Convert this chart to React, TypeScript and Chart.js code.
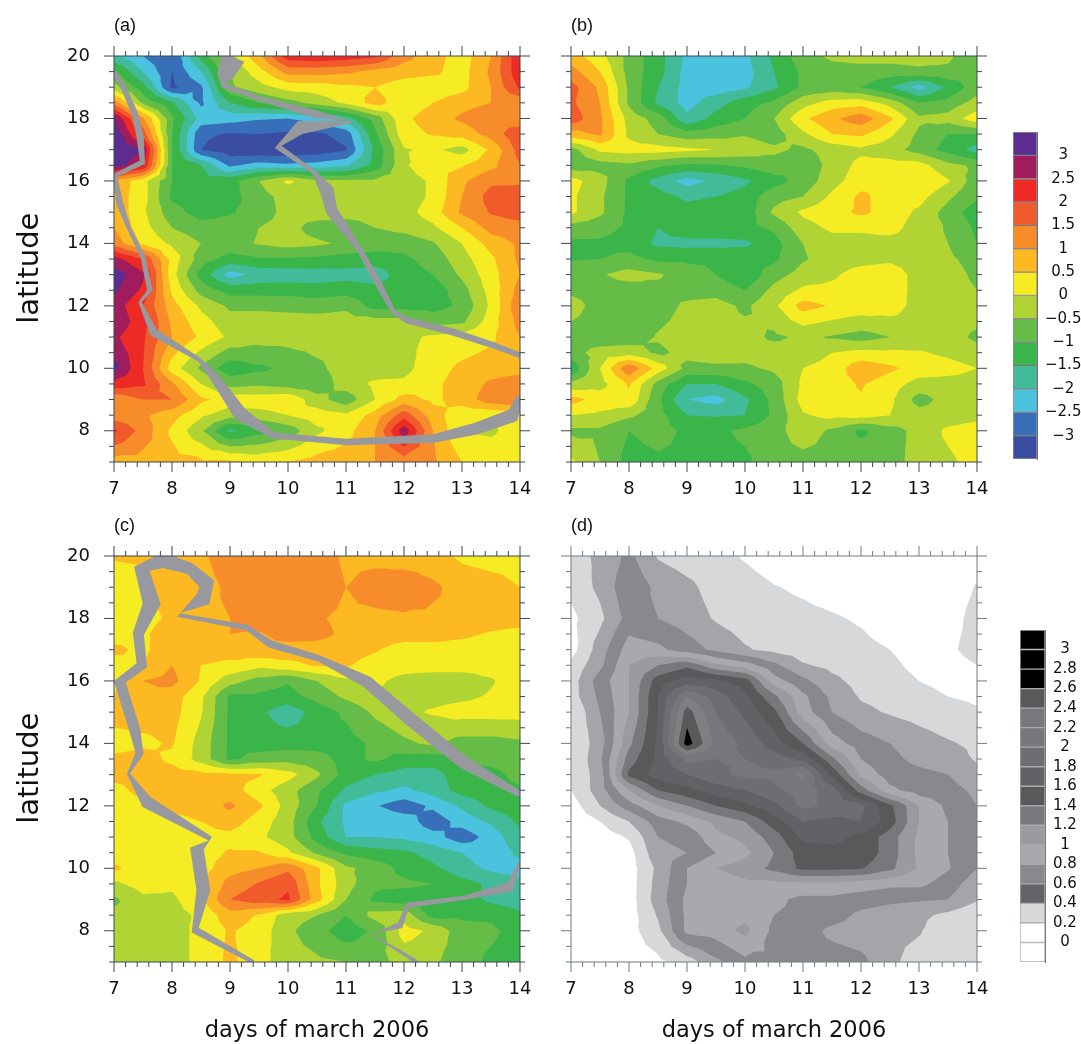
import React, { useEffect, useRef } from "react";
import { Chart, registerables } from "chart.js";

Chart.register(...registerables);

const dayValues = [7, 7.5, 8, 8.5, 9, 9.5, 10, 10.5, 11, 11.5, 12, 12.5, 13, 13.5, 14];
const dayTicks = [7, 8, 9, 10, 11, 12, 13, 14];
const latTicks = [8, 10, 12, 14, 16, 18, 20];

const anomalyLevels = [-3, -2.5, -2, -1.5, -1, -0.5, 0, 0.5, 1, 1.5, 2, 2.5, 3];
const anomalyColors = ["#3b4da0", "#386fb9", "#4bc3df", "#42bb98", "#39b54a", "#65bc46", "#b1d435", "#f6ec23", "#fdb922", "#f78c2a", "#f15a2b", "#ee2a24", "#a01c5c", "#5b2d91"];
const spreadLevels = [0, 0.2, 0.4, 0.6, 0.8, 1, 1.2, 1.4, 1.6, 1.8, 2, 2.2, 2.4, 2.6, 2.8, 3];
const spreadColors = ["#ffffff", "#ffffff", "#d6d8da", "#a3a5a8", "#88898c", "#a7a9ac", "#9a9b9e", "#77787b", "#58595b", "#616265", "#6d6e71", "#76777a", "#7e7f82", "#58595b", "#000000", "#000000", "#000000"];
const spreadLegendColors = ["#ffffff", "#ffffff", "#d6d8da", "#636468", "#88898c", "#a7a9ac", "#9a9b9e", "#77787b", "#58595b", "#616265", "#6d6e71", "#76777a", "#77787b", "#58595b", "#000000", "#000000", "#000000"];

const panelALats = [20, 19.5, 19, 18.5, 18, 17.5, 17, 16.5, 16, 15.5, 15, 14.5, 14, 13.5, 13, 12.5, 12, 11.5, 11, 10, 9.5, 9, 8.5, 8, 7];
const panelA = [
  [-1.9, -2.5, -3.0, -1.3, -0.2, 0.9, 2.3, 2.4, 2.3, 2.1, 1.2, 0.7, 0.25, 1.0, 2.4],
  [-0.9, -2.0, -3.0, -2.0, -0.5, 0.3, 1.2, 1.2, 1.1, 0.85, 0.7, 0.6, 0.3, 1.1, 2.4],
  [-0.3, -1.3, -3.1, -2.6, -0.6, -0.2, 0.2, 0.25, 0.4, 0.5, 0.25, 0.2, 0.35, 1.0, 2.1],
  [1.3, -0.6, -1.4, -2.6, -1.5, -1.0, -0.7, -0.3, 0.1, 0.7, 0.2, 0.5, 0.8, 1.0, 1.1],
  [3.1, 1.1, -0.9, -2.2, -2.3, -2.45, -2.5, -2.3, -1.7, -0.8, 0.4, 0.75, 1.1, 1.4, 1.1],
  [3.4, 1.8, -1.0, -2.9, -3.05, -3.0, -3.1, -3.1, -2.8, -1.1, 0.3, 0.55, 0.7, 1.2, 1.9],
  [3.4, 3.0, -1.0, -3.0, -3.3, -3.4, -3.4, -3.3, -3.05, -1.4, -0.05, 0.1, -0.2, 0.6, 1.7],
  [3.3, 2.6, -1.0, -1.5, -2.6, -2.3, -2.4, -2.3, -2.1, -1.3, -0.1, 0.5, 0.45, 0.85, 1.5],
  [0.9, 0.2, -1.0, -1.3, -1.2, -0.5, 0.1, -0.4, -0.4, -0.4, -0.3, 0.1, 0.9, 1.4, 1.4],
  [0.8, 0.2, -1.1, -1.3, -1.2, -0.7, -0.3, -0.3, -0.3, -0.3, -0.3, 0.1, 1.0, 1.7, 1.8],
  [0.9, 0.1, -0.8, -1.2, -1.05, -0.8, -0.3, -0.2, -0.2, -0.2, -0.2, 0.25, 1.1, 1.55, 1.75],
  [1.0, 0.2, -0.5, -0.8, -0.8, -0.5, -0.3, -0.75, -0.9, -0.5, -0.35, -0.1, 0.5, 1.2, 1.3],
  [1.3, 0.4, -0.1, -0.5, -0.7, -0.45, -0.3, -0.4, -0.6, -0.8, -0.8, -0.55, 0.0, 0.7, 1.1],
  [2.7, 2.0, 0.3, -0.75, -1.2, -1.05, -1.05, -1.1, -1.2, -1.2, -1.1, -0.8, -0.2, 0.4, 1.1],
  [3.3, 2.6, 0.2, -1.2, -2.2, -1.85, -1.8, -1.75, -1.7, -1.8, -1.2, -1.0, -0.4, 0.3, 1.0],
  [3.1, 2.4, 0.4, -0.7, -1.2, -1.2, -1.2, -1.3, -1.2, -1.3, -1.3, -1.3, -0.7, 0.2, 1.2],
  [2.8, 2.0, 0.7, -0.1, -0.6, -0.6, -0.65, -0.7, -0.6, -1.2, -1.2, -1.2, -0.9, 0.1, 1.4],
  [2.9, 2.2, 0.9, 0.2, -0.3, -0.3, -0.3, -0.3, -0.3, -0.3, -0.3, -0.7, -0.6, 0.25, 1.2],
  [2.6, 2.1, 1.0, 0.4, -0.1, -0.3, -0.3, -0.3, -0.3, -0.3, -0.15, 0.1, 0.2, 0.4, 1.0],
  [3.2, 2.0, 0.25, -0.6, -1.3, -1.1, -0.9, -0.6, -0.3, -0.3, -0.15, 0.3, 0.6, 0.75, 0.8],
  [2.3, 2.1, 1.1, 0.0, -0.7, -0.6, -0.75, -0.85, -0.25, 0.1, 0.1, 0.4, 0.7, 1.1, 1.3],
  [1.1, 1.5, 1.5, 0.6, 0.3, 0.3, 0.4, -0.3, -0.8, 0.0, 0.7, 0.4, 0.7, 1.3, 1.5],
  [1.2, 1.1, 0.7, 0.1, -0.3, -0.2, 0.0, 0.25, 0.1, 0.7, 1.8, 0.7, 0.2, 0.1, 0.2],
  [2.1, 1.3, 0.4, -0.4, -1.6, -1.2, -0.8, -0.1, 0.3, 1.0, 2.8, 1.0, 0.0, -0.1, 0.3],
  [0.8, 0.8, 0.7, 0.6, 0.6, 0.4, 0.5, 0.7, 0.8, 1.0, 1.2, 1.1, 0.5, 0.4, 0.4],
];

const panelBLats = [20, 19.5, 19, 18.5, 18, 17.5, 17, 16.5, 16, 15.5, 15, 14.5, 14, 13.5, 13, 12.5, 12, 11, 10.5, 10, 9.5, 9, 8.5, 8, 7];
const panelB = [
  [0.7, 0.2, -0.7, -1.3, -2.1, -2.2, -2.1, -1.4, -0.7, -0.4, -0.3, -0.3, -0.3, -0.4, -0.9],
  [1.2, 0.5, -0.7, -1.3, -2.2, -2.2, -2.2, -1.5, -0.9, -0.7, -0.7, -0.7, -0.6, -0.6, -0.9],
  [1.7, 0.9, -0.6, -1.5, -2.2, -2.3, -2.1, -1.6, -0.9, -0.8, -1.0, -1.5, -2.2, -1.4, -0.7],
  [1.6, 1.0, -0.6, -1.6, -2.2, -1.7, -1.2, -0.9, -0.2, 0.2, 0.3, -0.2, -1.0, -0.8, -0.3],
  [1.8, 1.1, -0.2, -0.7, -1.9, -1.3, -1.0, -0.5, 0.4, 0.9, 1.3, 0.6, -0.4, -0.3, 0.3],
  [0.8, 1.1, -0.1, -0.5, -0.8, -0.7, -0.55, -0.75, -0.1, 0.5, 0.6, 0.1, -0.6, -1.0, -1.0],
  [-0.7, 0.1, 0.2, 0.2, 0.1, 0.0, -0.2, -0.4, -0.6, -0.3, -0.1, -0.3, -0.7, -1.2, -1.7],
  [-0.8, -0.7, -0.6, -0.9, -1.1, -1.05, -0.9, -0.7, -0.9, -0.3, 0.15, 0.2, 0.2, -0.35, -0.6],
  [0.2, -0.3, -1.1, -1.7, -2.2, -1.9, -1.6, -1.2, -0.8, -0.2, 0.3, 0.4, 0.5, 0.05, -0.8],
  [0.1, -0.4, -1.1, -1.3, -1.6, -1.5, -1.3, -0.7, -0.5, 0.1, 0.6, 0.3, 0.2, -0.4, -0.9],
  [0.1, -0.4, -1.1, -1.1, -1.3, -1.2, -1.3, -0.4, 0.1, 0.3, 0.6, 0.3, -0.1, -0.7, -1.3],
  [-0.7, -0.8, -1.1, -1.5, -1.2, -1.2, -1.15, -0.9, -0.2, 0.1, 0.1, 0.2, -0.25, -0.55, -1.1],
  [-1.1, -1.1, -1.2, -1.6, -1.65, -1.65, -1.6, -1.2, -0.5, -0.2, -0.2, -0.2, -0.3, -0.5, -1.0],
  [-1.05, -1.0, -0.85, -1.1, -1.1, -1.1, -1.2, -1.1, -0.55, -0.3, -0.2, -0.1, -0.3, -0.4, -0.7],
  [-0.7, -0.55, -0.3, -0.45, -0.7, -1.0, -1.4, -0.7, -0.3, -0.1, 0.25, 0.3, -0.2, -0.3, -0.6],
  [-0.6, -0.7, -0.75, -0.6, -0.7, -0.7, -1.0, -0.35, 0.1, 0.15, 0.3, 0.3, -0.2, -0.3, -0.5],
  [-0.3, -0.7, -0.9, -0.75, -0.4, -0.3, -0.6, -0.1, 0.7, 0.45, 0.3, 0.25, -0.2, -0.2, -0.2],
  [-0.7, -0.8, -0.8, -0.45, -0.25, -0.25, -0.3, -0.6, -0.4, -0.55, -0.7, -0.5, -0.3, -0.3, -0.6],
  [-0.7, -0.3, -0.2, -0.6, -0.35, -0.25, -0.3, -0.25, -0.3, 0.0, 0.15, 0.1, 0.05, -0.1, -0.3],
  [-1.4, 0.0, 1.4, 0.3, -0.65, -0.6, -0.6, -0.4, 0.0, 0.2, 0.85, 0.6, 0.3, 0.2, 0.0],
  [-0.4, -0.2, 0.55, -0.7, -1.5, -1.5, -1.1, -0.75, 0.1, 0.3, 0.55, 0.25, -0.2, -0.2, -0.2],
  [0.7, 0.3, 0.4, -0.9, -2.0, -2.2, -1.6, -0.85, 0.2, 0.3, 0.45, 0.1, -0.7, -0.3, -0.2],
  [0.0, -0.1, -0.4, -0.8, -1.5, -1.55, -1.5, -0.9, -0.05, 0.15, 0.2, 0.0, -0.3, -0.3, -0.2],
  [-0.6, -0.6, -1.0, -0.8, -1.1, -1.1, -0.9, -0.7, -0.2, -0.6, -1.1, -0.7, -0.35, 0.1, 0.3],
  [0.1, -0.5, -1.2, -1.1, -1.1, -1.2, -1.1, -0.7, -0.7, -0.7, -0.7, -0.7, -0.3, -0.1, 0.2],
];

const panelCLats = [20, 19, 18, 17.5, 17, 16.5, 16, 15.5, 15, 14, 13.5, 13, 12.5, 12, 11.5, 11, 10.5, 10, 9.5, 9, 8.5, 8, 7];
const panelC = [
  [0.55, 0.6, 0.7, 0.9, 1.3, 1.4, 1.4, 1.3, 0.9, 0.8, 0.7, 0.7, 0.4, 0.3, 0.3],
  [0.2, 0.3, 0.9, 0.8, 1.1, 1.3, 1.3, 1.3, 1.0, 1.3, 1.4, 1.1, 0.8, 0.7, 0.5],
  [0.25, 0.3, 0.6, 0.9, 1.0, 1.3, 1.3, 1.05, 0.9, 0.85, 0.9, 0.9, 0.85, 0.75, 0.7],
  [0.3, 0.4, 0.85, 0.85, 1.0, 0.95, 1.2, 1.15, 0.9, 0.85, 0.75, 0.75, 0.6, 0.45, 0.35],
  [0.6, 0.4, 0.8, 0.7, 0.7, 0.9, 0.8, 0.8, 0.7, 0.55, 0.25, 0.25, 0.3, 0.2, 0.0],
  [0.3, 0.5, 1.0, 0.5, 0.4, 0.15, 0.35, 0.55, 0.55, 0.3, 0.2, 0.2, 0.2, 0.2, 0.3],
  [0.2, 1.0, 1.15, 0.45, -0.3, -0.7, -0.95, -0.5, -0.1, 0.1, -0.15, -0.25, -0.25, -0.05, 0.3],
  [0.6, 1.0, 0.75, 0.1, -1.1, -1.1, -1.2, -0.8, -0.4, -0.1, -0.15, -0.15, -0.1, 0.05, 0.25],
  [0.7, 0.7, 0.7, 0.05, -1.1, -1.4, -1.8, -1.3, -0.9, -0.4, -0.1, 0.05, 0.2, 0.2, 0.2],
  [0.3, 0.4, 0.55, -0.2, -1.1, -1.25, -1.2, -1.2, -1.2, -0.9, -0.6, -0.4, -0.7, -0.7, -0.6],
  [0.6, 0.7, 0.4, -0.2, -1.1, -0.8, -0.7, -0.8, -1.2, -0.9, -1.2, -1.25, -1.0, -0.8, -0.6],
  [0.7, 0.7, 0.7, 0.65, 0.6, 0.55, 0.2, -0.4, -1.2, -1.5, -1.7, -1.7, -1.2, -1.2, -0.8],
  [0.3, 0.7, 0.7, 0.7, 0.75, 0.2, -0.3, -0.9, -1.6, -1.9, -2.1, -1.8, -1.3, -1.2, -1.1],
  [0.2, 0.3, 0.7, 0.7, 1.1, 0.6, -0.2, -1.0, -2.1, -2.45, -2.8, -2.4, -1.9, -1.4, -1.2],
  [0.2, 0.2, 0.3, 0.5, 0.75, 0.25, -0.3, -1.4, -2.1, -2.1, -2.2, -2.8, -2.3, -1.9, -1.4],
  [0.2, 0.2, 0.3, 0.35, 0.35, 0.1, -0.3, -1.2, -2.0, -2.0, -2.1, -2.3, -2.8, -2.3, -1.6],
  [0.2, 0.2, 0.2, 0.3, 0.55, 0.55, 0.1, -0.6, -1.1, -1.3, -1.4, -1.7, -2.0, -2.3, -1.9],
  [0.6, 0.2, 0.1, 0.3, 0.8, 1.0, 1.4, 0.6, -0.4, -0.7, -1.15, -1.4, -1.8, -2.1, -2.2],
  [-0.1, 0.2, 0.1, 0.4, 1.2, 1.55, 1.9, 0.6, -0.3, -0.9, -0.9, -1.0, -1.3, -1.6, -1.9],
  [-0.6, -0.1, -0.1, 0.4, 1.5, 1.8, 2.1, 0.7, -0.5, -1.1, -1.3, -1.2, -1.3, -1.6, -1.8],
  [-0.4, -0.3, -0.2, 0.1, 0.8, 0.45, -0.3, -0.5, -1.0, -0.3, -0.2, -1.2, -1.1, -1.1, -1.4],
  [-0.3, -0.3, -0.3, 0.2, 0.55, 0.3, -0.4, -0.8, -1.3, -0.9, 0.2, -0.1, -0.8, -0.9, -1.2],
  [-0.3, -0.3, -0.3, 0.2, 0.6, 0.2, -0.3, -0.4, -0.5, -0.7, -0.3, -0.4, -0.8, -1.1, -1.3],
];

const panelDLats = [20, 19, 18, 17, 16.5, 16, 15.5, 15, 14, 13.5, 13, 12.5, 12, 11.5, 11, 10.5, 10, 9.5, 9, 8.5, 8, 7];
const panelD = [
  [0.3, 0.45, 0.65, 0.38, 0.3, 0.27, 0.18, 0.1, 0.05, 0.05, 0.05, 0.05, 0.05, 0.05, 0.05],
  [0.25, 0.45, 0.75, 0.55, 0.45, 0.32, 0.28, 0.21, 0.17, 0.12, 0.1, 0.05, 0.03, 0.05, 0.22],
  [0.15, 0.35, 0.68, 0.6, 0.5, 0.38, 0.3, 0.27, 0.25, 0.22, 0.18, 0.1, 0.05, 0.08, 0.3],
  [0.12, 0.5, 0.9, 0.85, 0.7, 0.55, 0.42, 0.35, 0.3, 0.28, 0.25, 0.2, 0.12, 0.15, 0.3],
  [0.25, 0.55, 1.0, 1.2, 1.35, 1.05, 0.9, 0.65, 0.42, 0.35, 0.3, 0.24, 0.15, 0.1, 0.2],
  [0.3, 0.7, 1.0, 1.5, 1.7, 1.65, 1.5, 0.9, 0.65, 0.45, 0.33, 0.28, 0.2, 0.15, 0.12],
  [0.3, 0.65, 1.0, 1.6, 2.2, 1.9, 1.65, 1.25, 0.85, 0.55, 0.38, 0.33, 0.26, 0.2, 0.17],
  [0.2, 0.6, 1.0, 1.6, 2.5, 2.0, 1.75, 1.45, 0.9, 0.6, 0.45, 0.38, 0.32, 0.27, 0.22],
  [0.22, 0.5, 1.15, 1.65, 2.7, 2.15, 1.95, 1.7, 1.4, 0.9, 0.7, 0.6, 0.5, 0.42, 0.36],
  [0.2, 0.55, 1.3, 1.65, 2.05, 2.0, 2.0, 1.9, 1.75, 1.25, 0.8, 0.65, 0.55, 0.5, 0.38],
  [0.22, 0.5, 1.45, 1.7, 1.8, 1.95, 2.05, 2.05, 2.25, 1.55, 0.95, 0.7, 0.65, 0.6, 0.45],
  [0.2, 0.5, 1.0, 1.4, 1.55, 1.7, 1.8, 1.95, 2.1, 1.9, 1.3, 0.85, 0.7, 0.68, 0.55],
  [0.1, 0.4, 0.7, 1.0, 1.2, 1.4, 1.55, 1.75, 2.05, 1.95, 1.85, 1.45, 1.0, 0.75, 0.6],
  [0.07, 0.2, 0.4, 0.7, 0.85, 1.05, 1.2, 1.5, 1.8, 1.75, 1.8, 1.5, 1.0, 0.8, 0.6],
  [0.05, 0.1, 0.22, 0.6, 0.65, 0.95, 1.05, 1.3, 1.65, 1.65, 1.55, 1.3, 0.95, 0.8, 0.6],
  [0.04, 0.06, 0.12, 0.55, 0.6, 0.8, 0.95, 1.2, 1.5, 1.55, 1.55, 1.3, 0.95, 0.8, 0.6],
  [0.03, 0.05, 0.1, 0.45, 0.8, 1.0, 1.1, 1.25, 1.45, 1.45, 1.42, 1.25, 0.98, 0.82, 0.6],
  [0.03, 0.05, 0.1, 0.48, 0.8, 0.88, 0.95, 0.95, 0.95, 0.95, 0.9, 0.85, 0.85, 0.7, 0.48],
  [0.03, 0.05, 0.1, 0.5, 0.85, 0.9, 0.95, 0.85, 0.75, 0.75, 0.7, 0.65, 0.62, 0.6, 0.42],
  [0.03, 0.05, 0.1, 0.42, 0.85, 0.9, 0.95, 0.8, 0.75, 0.7, 0.55, 0.48, 0.45, 0.35, 0.24],
  [0.03, 0.05, 0.12, 0.35, 0.85, 0.9, 1.05, 0.75, 0.7, 0.55, 0.5, 0.45, 0.42, 0.25, 0.2],
  [0.02, 0.05, 0.08, 0.15, 0.3, 0.55, 0.75, 0.75, 0.7, 0.7, 0.65, 0.45, 0.3, 0.27, 0.25],
];

const ridgeA1Days = [7.0, 7.16, 7.36, 7.45, 7.49, 7.02, 7.1, 7.25, 7.5, 7.62, 7.45, 7.68, 8.48, 8.77, 9.17, 9.75, 11.01, 12.51, 13.25, 13.88, 14.0];
const ridgeA1Lats = [19.49, 19.01, 18.15, 17.41, 16.6, 16.18, 15.27, 14.52, 13.56, 12.5, 12.12, 11.16, 10.26, 9.62, 8.55, 7.85, 7.64, 7.75, 8.07, 8.49, 9.08];
const ridgeA1Thick = [0.15, 0.15, 0.17, 0.19, 0.17, 0.13, 0.19, 0.11, 0.13, 0.15, 0.09, 0.23, 0.11, 0.26, 0.38, 0.17, 0.17, 0.23, 0.32, 0.37, 0.21];
const ridgeA2Days = [9.06, 8.91, 8.89, 9.52, 10.49, 11.13, 10.21, 9.83, 10.44, 10.67, 10.75, 11.24, 11.53, 11.82, 12.05, 12.85, 13.54, 14.0];
const ridgeA2Lats = [19.97, 19.33, 19.06, 18.63, 18.13, 17.91, 17.71, 17.09, 16.29, 15.7, 15.06, 13.78, 12.82, 11.8, 11.54, 11.16, 10.74, 10.42];
const ridgeA2Thick = [0.64, 0.43, 0.15, 0.13, 0.21, 0.06, 0.37, 0.19, 0.11, 0.38, 0.32, 0.15, 0.19, 0.13, 0.17, 0.19, 0.17, 0.15];
const ridgeC1Days = [14, 13.02, 12.1, 11.36, 10.55, 9.69, 9.29, 8.11, 8.54, 8.6, 8.31, 7.85, 7.48, 7.65, 7.42, 7.48, 7.1, 7.36, 7.44, 7.25, 7.56, 8.66, 8.43, 8.54, 8.4, 9.4];
const ridgeC1Lats = [12.37, 13.4, 14.79, 15.97, 16.71, 17.19, 17.71, 18.11, 18.63, 19.11, 19.59, 19.87, 19.59, 18.47, 17.51, 16.5, 15.97, 14.42, 13.67, 13.03, 12.12, 10.95, 10.63, 9.3, 8.02, 7.0];
const ridgeC1Thick = [0.17, 0.34, 0.36, 0.32, 0.17, 0.21, 0.15, 0.11, 0.43, 0.43, 0.32, 0.43, 0.43, 0.48, 0.3, 0.3, 0.32, 0.3, 0.21, 0.09, 0.34, 0.13, 0.37, 0.37, 0.23, 0.11];
const ridgeC2Days = [13.99, 13.83, 13.02, 12.07, 11.93, 11.44, 12.22];
const ridgeC2Lats = [10.2, 9.4, 9.05, 8.82, 8.17, 7.9, 7.0];
const ridgeC2Thick = [0.06, 0.27, 0.11, 0.15, 0.19, 0.04, 0.11];

const RIDGE_COLOR = "#98999e";
const INK = "#111111";
const AXIS_FONT = "'DejaVu Sans'";

function ridgeOutline(days: number[], lats: number[], thick: number[]) {
  const k = 1.86;
  const left: { x: number; y: number }[] = [];
  const right: { x: number; y: number }[] = [];
  days.forEach((d, i) => {
    const p = Math.max(0, i - 1);
    const n = Math.min(days.length - 1, i + 1);
    let tx = (days[n] - days[p]) * k;
    let ty = lats[n] - lats[p];
    const len = Math.hypot(tx, ty) || 1;
    tx /= len;
    ty /= len;
    const nx = -ty * thick[i] * 0.6;
    const ny = tx * thick[i] * 0.6;
    left.push({ x: d + nx / k, y: lats[i] + ny });
    right.push({ x: d - nx / k, y: lats[i] - ny });
  });
  return left.concat(right.reverse());
}

function gridPoints(values: number[][], lats: number[]) {
  const out: { x: number; y: number; v: number }[] = [];
  lats.forEach((lat, r) => dayValues.forEach((day, c) => out.push({ x: day, y: lat, v: values[r][c] })));
  return out;
}

type P = [number, number, number];

function clipAbove(poly: P[], level: number) {
  const out: P[] = [];
  for (let i = 0; i < poly.length; i++) {
    const a = poly[i];
    const b = poly[(i + 1) % poly.length];
    const ain = a[2] >= level;
    const bin = b[2] >= level;
    if (ain) out.push(a);
    if (ain !== bin) {
      const t = (level - a[2]) / (b[2] - a[2]);
      out.push([a[0] + (b[0] - a[0]) * t, a[1] + (b[1] - a[1]) * t, level]);
    }
  }
  return out;
}

const contourPlugin = {
  id: "contourBands",
  beforeDatasetsDraw(chart: any, _a: any, opts: any) {
    const { ctx, chartArea: ca, scales } = chart;
    const pts = chart.data.datasets[0].data as { x: number; y: number; v: number }[];
    const cols = dayValues.length;
    const rows = pts.length / cols;
    const cell = (r: number, c: number): P => {
      const q = pts[r * cols + c];
      return [scales.x.getPixelForValue(q.x), scales.y.getPixelForValue(q.y), q.v];
    };
    const tris: P[][] = [];
    for (let r = 0; r < rows - 1; r++) {
      for (let c = 0; c < cols - 1; c++) {
        const a = cell(r, c);
        const b = cell(r, c + 1);
        const d = cell(r + 1, c);
        const e = cell(r + 1, c + 1);
        const m: P = [(a[0] + e[0]) / 2, (a[1] + e[1]) / 2, (a[2] + b[2] + d[2] + e[2]) / 4];
        tris.push([a, b, m], [b, e, m], [e, d, m], [d, a, m]);
      }
    }
    ctx.save();
    ctx.fillStyle = opts.colors[0];
    ctx.fillRect(ca.left, ca.top, ca.width, ca.height);
    opts.levels.forEach((level: number, k: number) => {
      ctx.beginPath();
      for (const t of tris) {
        const poly = clipAbove(t, level);
        if (poly.length < 3) continue;
        ctx.moveTo(poly[0][0], poly[0][1]);
        for (let i = 1; i < poly.length; i++) ctx.lineTo(poly[i][0], poly[i][1]);
        ctx.closePath();
      }
      ctx.fillStyle = opts.colors[k + 1];
      ctx.fill();
    });
    ctx.beginPath();
    ctx.rect(ca.left, ca.top, ca.width, ca.height);
    ctx.clip();
    chart.data.datasets.forEach((ds: any, i: number) => {
      if (!ds.isRidge) return;
      const els = chart.getDatasetMeta(i).data;
      ctx.beginPath();
      els.forEach((el: any, j: number) => (j ? ctx.lineTo(el.x, el.y) : ctx.moveTo(el.x, el.y)));
      ctx.closePath();
      ctx.fillStyle = RIDGE_COLOR;
      ctx.fill();
    });
    ctx.restore();
  },
  afterDatasetsDraw(chart: any, _a: any, opts: any) {
    const { ctx, chartArea: ca, scales } = chart;
    ctx.save();
    ctx.strokeStyle = opts.axisColor;
    ctx.lineWidth = 1;
    ctx.beginPath();
    ctx.rect(ca.left, ca.top, ca.width, ca.height);
    const vTick = (v: number, len: number) => {
      const p = scales.x.getPixelForValue(v);
      ctx.moveTo(p, ca.top);
      ctx.lineTo(p, ca.top - len);
      ctx.moveTo(p, ca.bottom);
      ctx.lineTo(p, ca.bottom + len);
    };
    const hTick = (v: number, len: number) => {
      const p = scales.y.getPixelForValue(v);
      ctx.moveTo(ca.left, p);
      ctx.lineTo(ca.left - len, p);
      ctx.moveTo(ca.right, p);
      ctx.lineTo(ca.right + len, p);
    };
    for (let t = 7; t < 14; t++) for (let j = 1; j < 5; j++) vTick(t + j / 5, 5);
    dayTicks.forEach((t) => vTick(t, 10));
    for (let t = 7; t < 20; t += 0.5) if (!latTicks.includes(t)) hTick(t, 5);
    latTicks.forEach((t) => hTick(t, 10));
    ctx.stroke();
    ctx.restore();
  },
};

type PanelProps = {
  left: number;
  top: number;
  width: number;
  height: number;
  areaLeft: number;
  areaBottom: number;
  label: string;
  values: number[][];
  lats: number[];
  levels: number[];
  colors: string[];
  ridges: { x: number; y: number }[][];
  yLabels: boolean;
  xTitle: boolean;
  axisColor: string;
};

function Panel(p: PanelProps) {
  const ref = useRef<HTMLCanvasElement>(null);
  useEffect(() => {
    const chart = new Chart(ref.current as HTMLCanvasElement, {
      type: "scatter",
      data: {
        datasets: [
          { label: "field", data: gridPoints(p.values, p.lats), pointRadius: 0, showLine: false },
          ...p.ridges.map((r, i) => ({ label: "ridge " + i, isRidge: true, data: r, pointRadius: 0, showLine: false })),
        ] as any,
      },
      options: {
        responsive: false,
        animation: false,
        events: [],
        layout: { padding: { left: p.yLabels ? 13 : 0, top: 16, right: p.width - (p.areaLeft + 406), bottom: 0 } },
        plugins: {
          legend: { display: false },
          tooltip: { enabled: false },
          title: {
            display: true,
            text: p.label,
            align: "start",
            fullSize: false,
            color: INK,
            font: { family: "'Liberation Sans'", size: 18, weight: "normal", lineHeight: "20px" },
            padding: { top: 0, bottom: 20 },
          },
          contourBands: { levels: p.levels, colors: p.colors, axisColor: p.axisColor },
        } as any,
        scales: {
          x: {
            type: "linear",
            min: 7,
            max: 14,
            afterBuildTicks: (a: any) => {
              a.ticks = dayTicks.map((v) => ({ value: v }));
            },
            afterFit: (a: any) => {
              a.height = p.height - p.areaBottom;
            },
            grid: { display: false },
            border: { display: false },
            ticks: { color: INK, padding: 9, maxRotation: 0, autoSkip: false, font: { family: AXIS_FONT, size: 18 } },
            title: { display: p.xTitle, text: "days of march 2006", color: INK, padding: 0, font: { family: AXIS_FONT, size: 22.5, lineHeight: 1.1 } },
          },
          y: {
            type: "linear",
            min: 7,
            max: 20,
            afterBuildTicks: (a: any) => {
              a.ticks = latTicks.map((v) => ({ value: v }));
            },
            afterFit: (a: any) => {
              a.width = p.areaLeft - (p.yLabels ? 13 : 0);
            },
            grid: { display: false },
            border: { display: false },
            ticks: { display: p.yLabels, color: INK, padding: 16, autoSkip: false, font: { family: AXIS_FONT, size: 18 } },
            title: { display: p.yLabels, text: "latitude  ", color: INK, padding: 0, font: { family: AXIS_FONT, size: 29 } },
          },
        },
      } as any,
      plugins: [contourPlugin],
    });
    return () => chart.destroy();
  }, []);
  return <canvas ref={ref} width={p.width} height={p.height} style={{ position: "absolute", left: p.left, top: p.top }} />;
}

type BarProps = {
  left: number;
  top: number;
  width: number;
  height: number;
  padLeft: number;
  padTop: number;
  padBottom: number;
  barWidth: number;
  levels: number[];
  colors: string[];
  stepSize: number;
  edge: string;
  gap: string;
  fontSize: number;
};

function ColorBar(p: BarProps) {
  const ref = useRef<HTMLCanvasElement>(null);
  useEffect(() => {
    const first = p.levels[0] - p.stepSize;
    const last = p.levels[p.levels.length - 1] + p.stepSize;
    const edges = [first, ...p.levels, last];
    const chart = new Chart(ref.current as HTMLCanvasElement, {
      type: "bar",
      data: {
        labels: ["scale"],
        datasets: p.colors.map((c, i) => ({
          label: String(edges[i]),
          data: [[edges[i], edges[i + 1]]],
          backgroundColor: c,
          borderColor: p.gap,
          borderWidth: 1,
          borderSkipped: false,
          barPercentage: 1,
          categoryPercentage: 1,
          grouped: false,
        })) as any,
      },
      options: {
        responsive: false,
        animation: false,
        events: [],
        layout: { padding: { left: p.padLeft, top: p.padTop, bottom: p.padBottom, right: 0 } },
        plugins: { legend: { display: false }, tooltip: { enabled: false } },
        scales: {
          x: { display: false },
          y: {
            position: "right",
            min: first,
            max: last,
            afterBuildTicks: (a: any) => {
              a.ticks = p.levels.map((v) => ({ value: v }));
            },
            afterFit: (a: any) => {
              a.width = p.width - p.padLeft - p.barWidth;
              a.paddingTop = 0;
              a.paddingBottom = 0;
            },
            grid: { display: false },
            border: { display: true, color: p.edge },
            ticks: {
              color: INK,
              padding: 0,
              crossAlign: "center",
              autoSkip: false,
              callback: (v: any) => (Math.round(Number(v) * 10) / 10).toString().replace("-", "\u2212"),
              font: { family: AXIS_FONT, size: p.fontSize },
            },
          },
        },
      } as any,
    });
    return () => chart.destroy();
  }, []);
  return <canvas ref={ref} width={p.width} height={p.height} style={{ position: "absolute", left: p.left, top: p.top }} />;
}

export default function App() {
  const ridgesA = [ridgeOutline(ridgeA1Days, ridgeA1Lats, ridgeA1Thick), ridgeOutline(ridgeA2Days, ridgeA2Lats, ridgeA2Thick)];
  const ridgesC = [ridgeOutline(ridgeC1Days, ridgeC1Lats, ridgeC1Thick), ridgeOutline(ridgeC2Days, ridgeC2Lats, ridgeC2Thick)];
  return (
    <div style={{ position: "absolute", left: 0, top: 0, width: 1081, height: 1044, overflow: "hidden", background: "#fff", filter: "blur(0.6px)" }}>
      <Panel left={0} top={0} width={545} height={505} areaLeft={114} areaBottom={462} label="(a)" values={panelA} lats={panelALats} levels={anomalyLevels} colors={anomalyColors} ridges={ridgesA} yLabels xTitle={false} axisColor="#3c4650" />
      <Panel left={545} top={0} width={455} height={505} areaLeft={26} areaBottom={462} label="(b)" values={panelB} lats={panelBLats} levels={anomalyLevels} colors={anomalyColors} ridges={[]} yLabels={false} xTitle={false} axisColor="#3c4650" />
      <Panel left={0} top={500} width={545} height={544} areaLeft={114} areaBottom={462} label="(c)" values={panelC} lats={panelCLats} levels={anomalyLevels} colors={anomalyColors} ridges={ridgesC} yLabels xTitle axisColor="#3c4650" />
      <Panel left={545} top={500} width={455} height={544} areaLeft={26} areaBottom={462} label="(d)" values={panelD} lats={panelDLats} levels={spreadLevels} colors={spreadColors} ridges={[]} yLabels={false} xTitle axisColor="#6f7a84" />
      <ColorBar left={1000} top={120} width={81} height={350} padLeft={13} padTop={12} padBottom={11} barWidth={24} levels={anomalyLevels} colors={anomalyColors} stepSize={0.5} edge="#6a6a78" gap="rgba(60,60,70,0.55)" fontSize={15} />
      <ColorBar left={1000} top={620} width={81} height={350} padLeft={20} padTop={10} padBottom={8} barWidth={25} levels={spreadLevels} colors={spreadLegendColors} stepSize={0.2} edge="#77787b" gap="#a9abae" fontSize={15} />
    </div>
  );
}
